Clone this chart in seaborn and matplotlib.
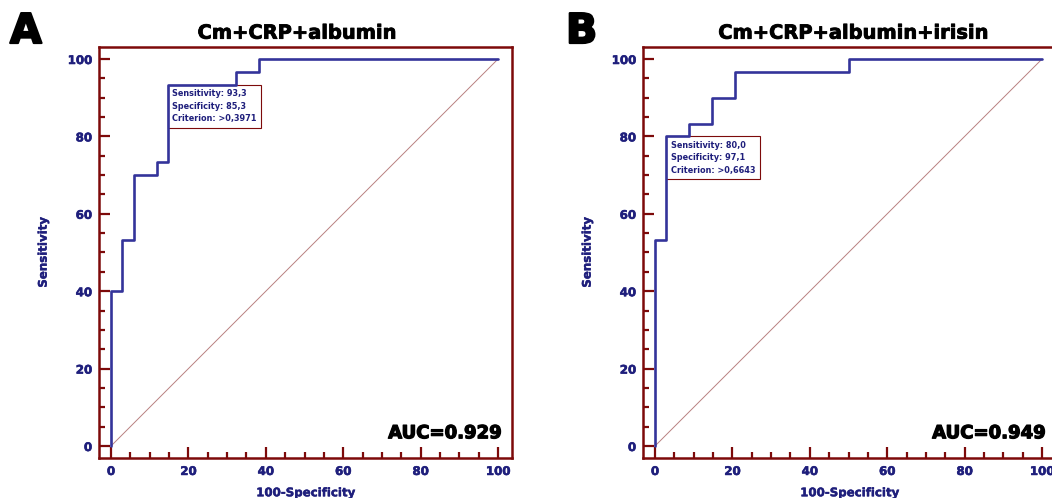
"""Two ROC curves (combined marker panels A and B) drawn with seaborn."""

import numpy as np
import pandas as pd
import matplotlib

matplotlib.use("Agg")
import matplotlib.pyplot as plt
import matplotlib.patheffects as pe
from matplotlib.ticker import MultipleLocator
import seaborn as sns

# ---- Data ---------------------------------------------------------------
# Corner points of each ROC step curve (100-specificity, sensitivity).
fpr_a = [0, 0, 2.94, 5.88, 11.76, 14.71, 32.35, 38.24, 100]
tpr_a = [0, 40.0, 53.3, 70.0, 73.3, 93.3, 96.7, 100, 100]

fpr_b = [0, 0, 2.94, 8.82, 14.71, 20.59, 50.0, 100]
tpr_b = [0, 53.3, 80.0, 83.3, 90.0, 96.7, 100, 100]

titles = ["Cm+CRP+albumin", "Cm+CRP+albumin+irisin"]
panel_letters = ["A", "B"]
auc_values = [0.929, 0.949]

# Optimal cut-off: sensitivity, specificity, criterion
cut_sens = ["93,3", "80,0"]
cut_spec = ["85,3", "97,1"]
cut_crit = [">0,3971", ">0,6643"]
cut_point = [(14.71, 93.3), (2.94, 80.0)]

# ---- Style ---------------------------------------------------------------
FRAME = "#7d0a0a"
NAVY = "#1f1f7c"
CURVE = "#34349a"
DIAG = "#b98080"

sns.set_style("white")
plt.rcParams["font.family"] = ["DejaVu Sans"]
plt.rcParams["font.weight"] = "bold"


def heavy(width, color):
    # thicken the bold glyphs a little, the reference font is very heavy
    return [pe.withStroke(linewidth=width, foreground=color)]


def draw_panel(ax, fpr, tpr, i):
    df = pd.DataFrame({"fpr": fpr, "tpr": tpr})
    diag = pd.DataFrame({"fpr": [0, 100], "tpr": [0, 100]})

    sns.lineplot(data=diag, x="fpr", y="tpr", ax=ax, color=DIAG,
                 linewidth=0.7, estimator=None, sort=False)
    # curve above the cut-off box: its edges run along the box sides
    sns.lineplot(data=df, x="fpr", y="tpr", ax=ax, color=CURVE,
                 linewidth=1.9, estimator=None, sort=False,
                 drawstyle="steps-post", zorder=5)

    ax.set_xlim(-3.1, 103.6)
    ax.set_ylim(-3.1, 103.1)
    ax.xaxis.set_major_locator(MultipleLocator(20))
    ax.xaxis.set_minor_locator(MultipleLocator(5))
    ax.yaxis.set_major_locator(MultipleLocator(20))
    ax.yaxis.set_minor_locator(MultipleLocator(5))
    ax.tick_params(which="both", direction="in", color=FRAME, width=1.6,
                   top=False, right=False, bottom=True, left=True)
    ax.tick_params(which="major", length=8, pad=5, labelsize=8.5,
                   labelcolor=NAVY)
    ax.tick_params(which="minor", length=4.5)
    for lab in ax.get_xticklabels() + ax.get_yticklabels():
        lab.set_fontweight("bold")
        lab.set_path_effects(heavy(0.4, NAVY))

    for side in ax.spines.values():
        side.set_visible(True)
        side.set_color(FRAME)
        side.set_linewidth(1.8)

    ax.set_xlabel("100-Specificity", color=NAVY, fontsize=8.5,
                  fontweight="bold", labelpad=6,
                  path_effects=heavy(0.3, NAVY))
    ax.set_ylabel("Sensitivity", color=NAVY, fontsize=8.5,
                  fontweight="bold", labelpad=13,
                  path_effects=heavy(0.3, NAVY))
    ax.set_title(titles[i], fontsize=14, fontweight="bold", color="black",
                 pad=6, x=0.48 if i == 0 else 0.51,
                 path_effects=heavy(0.6, "black"))

    ax.text(100.8, 2.0, f"AUC={auc_values[i]:.3f}", ha="right",
            va="baseline", fontsize=13, fontweight="bold", color="black",
            path_effects=heavy(0.9, "black"))

    label = (f"Sensitivity: {cut_sens[i]}\n"
             f"Specificity: {cut_spec[i]}\n"
             f"Criterion: {cut_crit[i]}")
    ax.annotate(label, xy=cut_point[i], xytext=(3.0, -3.0),
                textcoords="offset points", ha="left", va="top",
                fontsize=5.9, fontweight="bold", color=NAVY,
                linespacing=1.5, zorder=4,
                bbox=dict(boxstyle="square,pad=0.55", fc="white",
                          ec=FRAME, lw=0.8))


fig = plt.figure(figsize=(10.52, 4.98), dpi=100)
ax_a = fig.add_axes([99 / 1052, 40 / 498, 413 / 1052, 411 / 498])
ax_b = fig.add_axes([643 / 1052, 40 / 498, 413 / 1052, 411 / 498])

draw_panel(ax_a, fpr_a, tpr_a, 0)
draw_panel(ax_b, fpr_b, tpr_b, 1)

for letter, x0 in zip(panel_letters, [10, 566]):
    fig.text(x0 / 1052, 1 - 43 / 498, letter, fontsize=29.5,
             fontweight="heavy", color="black", ha="left", va="baseline",
             path_effects=heavy(1.6, "black"))

fig.savefig("out.png", dpi=100)
plt.close(fig)
